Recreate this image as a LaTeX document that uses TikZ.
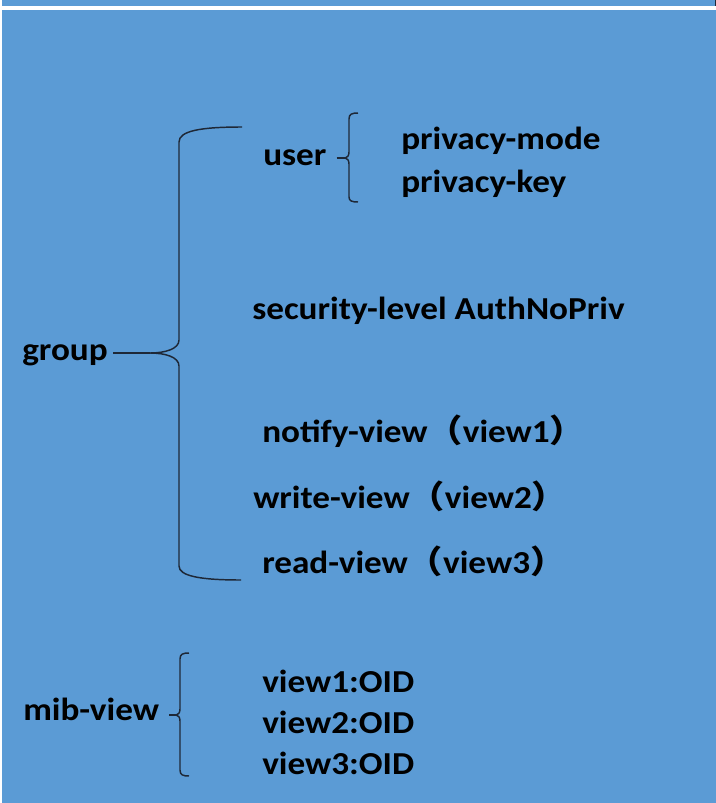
\documentclass[tikz,border=0pt]{standalone}
\usepackage{fontspec}
\setmainfont{Carlito}[FakeStretch=1.1]
\newfontfamily\cjk{Noto Sans CJK SC}[FakeStretch=1.1]
\definecolor{bgblue}{RGB}{91,155,213}
\definecolor{linec}{RGB}{30,40,55}
\newcommand{\lp}{{\cjk （}}
\newcommand{\rp}{{\cjk ）}}
\begin{document}
\begin{tikzpicture}[x=0.75pt,y=-0.75pt,
  lbl/.style={anchor=base west,inner sep=0pt,font=\fontsize{24}{28}\selectfont\bfseries},
  brc/.style={draw=linec,line width=1.1pt}]
\useasboundingbox (0,0) rectangle (716,803);
\fill[white] (0,0) rectangle (716,803);
\fill[bgblue] (2,0) rectangle (716,6);
\fill[bgblue] (2,10) rectangle (716,803);
\fill[linec] (714.5,0) rectangle (716,6);
% texts
\node[lbl] (group) at (22,360) {group};
\node[lbl] (user) at (263,165) {user};
\node[lbl] (pmode) at (401,149) {privacy-mode};
\node[lbl] (pkey) at (401,192) {privacy-key};
\node[lbl] (sec) at (252,319) {security-level AuthNoPriv};
\node[lbl] (notify) at (262,442) {notify-view\lp view1\rp};
\node[lbl] (write) at (253,508) {write-view\lp view2\rp};
\node[lbl] (read) at (262,573) {read-view\lp view3\rp};
\node[lbl] (mib) at (23,720) {mib-view};
\node[lbl] (v1) at (262,692) {view1:OID};
\node[lbl] (v2) at (262,733) {view2:OID};
\node[lbl] (v3) at (262,774) {view3:OID};
% group brace
\coordinate (gcusp) at (150,353);
\coordinate (gtop) at (242,127);
\coordinate (gbot) at (241,580);
\draw[brc] (group.east |- gcusp) ++(5,0) -- (gcusp);
\draw[brc] (gtop) .. controls (200,127) and (179,131) .. (179,142) -- (179,340)
  .. controls (179,349) and (165,353) .. (gcusp)
  .. controls (165,353) and (179,357) .. (179,366) -- (179,566)
  .. controls (179,576) and (200,580) .. (gbot);
% user brace
\coordinate (ucusp) at (345,158);
\draw[brc] (user.east |- ucusp) ++(10,0) -- (ucusp);
\draw[brc] (358,113) .. controls (352,113) and (349,114) .. (349,119) -- (349,152)
  .. controls (349,156) and (347,158) .. (ucusp)
  .. controls (347,158) and (349,160) .. (349,164) -- (349,197)
  .. controls (349,201) and (352,202) .. (358,202);
% mib brace
\coordinate (mcusp) at (176,715);
\draw[brc] (mib.east |- mcusp) ++(10,0) -- (mcusp);
\draw[brc] (189,653) .. controls (183,653) and (180,654) .. (180,659) -- (180,709)
  .. controls (180,713) and (178,715) .. (mcusp)
  .. controls (178,715) and (180,717) .. (180,721) -- (180,770)
  .. controls (180,775) and (183,776) .. (189,776);
\end{tikzpicture}
\end{document}
